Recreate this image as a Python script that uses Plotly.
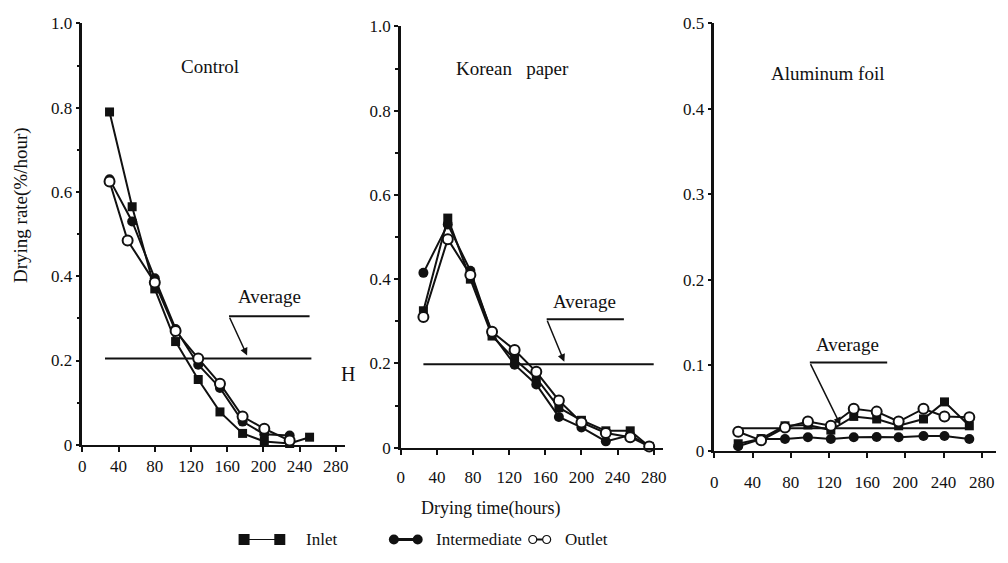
import plotly.graph_objects as go

# ---------------- data ----------------
ctrl_x_in = [30, 55, 80, 103, 128, 152, 177, 201, 229, 251]
ctrl_inlet = [0.79, 0.565, 0.37, 0.245, 0.155, 0.078, 0.027, 0.008, 0.003, 0.018]
ctrl_x_mid = [30, 55, 80, 103, 128, 152, 177, 201, 229]
ctrl_mid = [0.63, 0.53, 0.395, 0.275, 0.19, 0.135, 0.055, 0.025, 0.022]
ctrl_x_out = [30, 50, 80, 103, 128, 152, 177, 201, 229]
ctrl_out = [0.625, 0.485, 0.385, 0.27, 0.205, 0.145, 0.067, 0.038, 0.01]
ctrl_avg = 0.205
ctrl_avg_span = [25, 253]

kor_x = [25, 52, 77, 101, 126, 150, 175, 200, 227, 254, 275]
kor_inlet = [0.325, 0.545, 0.40, 0.265, 0.21, 0.165, 0.095, 0.065, 0.04, 0.04, 0.003]
kor_mid = [0.415, 0.53, 0.42, 0.27, 0.197, 0.15, 0.073, 0.048, 0.015, 0.03, 0.003]
kor_out = [0.31, 0.495, 0.41, 0.275, 0.232, 0.18, 0.112, 0.06, 0.035, 0.025, 0.003]
kor_avg = 0.198
kor_avg_span = [25, 280]

al_x = [25, 49, 74, 98, 122, 146, 170, 193, 219, 241, 267]
al_inlet = [0.008, 0.014, 0.029, 0.03, 0.024, 0.040, 0.037, 0.029, 0.037, 0.057, 0.029]
al_mid = [0.005, 0.0136, 0.0136, 0.0155, 0.0136, 0.0155, 0.016, 0.0155, 0.017, 0.017, 0.0136]
al_out = [0.022, 0.012, 0.027, 0.034, 0.029, 0.049, 0.0456, 0.034, 0.049, 0.040, 0.039]
al_avg = 0.026
al_avg_span = [22, 268]

x_ticks = [0, 40, 80, 120, 160, 200, 240, 280]
y_ticks_big = [0, 0.2, 0.4, 0.6, 0.8, 1.0]
y_ticks_big_text = ["0", "0.2", "0.4", "0.6", "0.8", "1.0"]
y_minor_big = [0.1, 0.3, 0.5, 0.7, 0.9]
y_ticks_al = [0, 0.1, 0.2, 0.3, 0.4, 0.5]
y_ticks_al_text = ["0", "0.1", "0.2", "0.3", "0.4", "0.5"]

panel_titles = ["Control", "Korean   paper", "Aluminum foil"]
series_names = ["Inlet", "Intermediate", "Outlet"]

FONT = "Liberation Serif"
BLACK = "#111111"

fig = go.Figure()

def add_series(xs, ys, kind, xa, ya):
    if kind == "inlet":
        marker = dict(symbol="square", size=9, color=BLACK)
    elif kind == "mid":
        marker = dict(symbol="circle", size=10, color=BLACK)
    else:
        marker = dict(symbol="circle", size=10, color="white",
                      line=dict(color=BLACK, width=2))
    fig.add_trace(go.Scatter(x=xs, y=ys, mode="lines+markers", xaxis=xa, yaxis=ya,
                             line=dict(color=BLACK, width=2), marker=marker,
                             cliponaxis=False, showlegend=False, hoverinfo="skip"))

def add_avg(span, val, xa, ya):
    fig.add_trace(go.Scatter(x=span, y=[val, val], mode="lines", xaxis=xa, yaxis=ya,
                             line=dict(color=BLACK, width=2), cliponaxis=False,
                             showlegend=False, hoverinfo="skip"))

# panel 1
add_avg(ctrl_avg_span, ctrl_avg, "x", "y")
add_series(ctrl_x_in, ctrl_inlet, "inlet", "x", "y")
add_series(ctrl_x_mid, ctrl_mid, "mid", "x", "y")
add_series(ctrl_x_out, ctrl_out, "out", "x", "y")
# panel 2
add_avg(kor_avg_span, kor_avg, "x2", "y2")
add_series(kor_x, kor_inlet, "inlet", "x2", "y2")
add_series(kor_x, kor_mid, "mid", "x2", "y2")
add_series(kor_x, kor_out, "out", "x2", "y2")
# panel 3
add_avg(al_avg_span, al_avg, "x3", "y3")
add_series(al_x, al_inlet, "inlet", "x3", "y3")
add_series(al_x, al_mid, "mid", "x3", "y3")
add_series(al_x, al_out, "out", "x3", "y3")

# legend samples (auxiliary axis, pixel-like coords)
LEG_Y = 0.31
leg_samples = [([242, 278], "inlet", 1), ([393, 417], "mid", 3), ([533, 547], "out", 2)]
for xs, kind, lw in leg_samples:
    if kind == "inlet":
        marker = dict(symbol="square", size=11, color=BLACK)
    elif kind == "mid":
        marker = dict(symbol="circle", size=10, color=BLACK)
    else:
        marker = dict(symbol="circle", size=8, color="white", line=dict(color=BLACK, width=1.2))
    fig.add_trace(go.Scatter(x=xs, y=[LEG_Y, LEG_Y], mode="lines+markers", xaxis="x4", yaxis="y4",
                             line=dict(color=BLACK, width=lw), marker=marker,
                             cliponaxis=False, showlegend=False, hoverinfo="skip"))

def xaxis(domain, rng, standoff):
    return dict(domain=domain, range=rng, tickmode="array", tickvals=x_ticks,
                ticktext=[str(v) for v in x_ticks], ticks="outside", ticklen=5, tickwidth=1.5,
                tickcolor=BLACK, showline=True, linewidth=2, linecolor=BLACK,
                showgrid=False, zeroline=False, ticklabelstandoff=standoff,
                tickfont=dict(family=FONT, size=17, color=BLACK))

def yaxis(domain, rng, vals, text, minor_vals, anchor):
    d = dict(domain=domain, range=rng, anchor=anchor, tickmode="array", tickvals=vals, ticktext=text,
             ticks="outside", ticklen=4, tickwidth=1.5, tickcolor=BLACK, showline=True,
             linewidth=2.5, linecolor=BLACK, showgrid=False, zeroline=False,
             tickfont=dict(family=FONT, size=17, color=BLACK))
    if minor_vals:
        d["minor"] = dict(tickmode="array", tickvals=minor_vals, ticks="outside", ticklen=3,
                          tickwidth=1.5, tickcolor=BLACK, showgrid=False)
    return d

fig.update_layout(
    width=1008, height=563, margin=dict(l=0, r=0, t=0, b=0),
    font=dict(family=FONT, color=BLACK),
    paper_bgcolor="white", plot_bgcolor="white", showlegend=False,
    xaxis=dict(**xaxis([79/1008, 343.6/1008], [0, 290], 0), anchor="y"),
    yaxis=yaxis([(563-451)/563, (563-15)/563], [0, 1.0], y_ticks_big, y_ticks_big_text, y_minor_big, "x"),
    xaxis2=dict(**xaxis([400/1008, 664/1008], [0, 290], 8), anchor="y2"),
    yaxis2=yaxis([(563-454)/563, (563-18)/563], [0, 1.0], y_ticks_big, y_ticks_big_text, y_minor_big, "x2"),
    xaxis3=dict(**xaxis([716/1008, 1000/1008], [0, 295], 10), anchor="y3"),
    yaxis3=yaxis([(563-457)/563, (563-15)/563], [0, 0.5], y_ticks_al, y_ticks_al_text, None, "x3"),
    xaxis4=dict(domain=[0, 1], range=[0, 1008], visible=False, anchor="y4"),
    yaxis4=dict(domain=[0, 0.08], range=[0, 1], visible=False, anchor="x4"),
)

ann = []
def txt(x, y, s, xref, yref, size=19, xanchor="center", **kw):
    ann.append(dict(x=x, y=y, text=s, xref=xref, yref=yref, showarrow=False,
                    xanchor=xanchor, yanchor="middle",
                    font=dict(family=FONT, size=size, color=BLACK), **kw))

# panel titles
txt(141, 0.897, panel_titles[0], "x", "y")
txt(124, 0.899, panel_titles[1], "x2", "y2")
txt(118.5, 0.441, panel_titles[2], "x3", "y3")
# Average labels
txt(207, 0.353, "Average", "x", "y")
txt(203, 0.346, "Average", "x2", "y2")
txt(139, 0.124, "Average", "x3", "y3")
# H marker
txt(347/1008, (563-378)/563, "H", "paper", "paper", size=20)
# axis titles
txt(490/1008, (563-517)/563, "Drying time(hours)", "paper", "paper", size=18)
txt(17/1008, (563-203)/563, "Drying rate(%/hour)", "paper", "paper", size=19, textangle=-90)
# legend texts
txt(302, LEG_Y, series_names[0], "x4", "y4", size=17, xanchor="left")
txt(433, LEG_Y, series_names[1], "x4", "y4", size=17, xanchor="left")
txt(563, LEG_Y, series_names[2], "x4", "y4", size=17, xanchor="left")

# leader lines for "Average"
leaders = [("x", "y", 251, 162, 0.305, 182, 0.212),
           ("x2", "y2", 247, 161.5, 0.305, 181, 0.204),
           ("x3", "y3", 181, 100, 0.103, 132, 0.030)]
shapes = []
for xr, yr, xh, xc, yh, xt, yt in leaders:
    shapes.append(dict(type="line", xref=xr, yref=yr, x0=xh, x1=xc, y0=yh, y1=yh,
                       line=dict(color=BLACK, width=2)))
    ann.append(dict(x=xt, y=yt, ax=xc, ay=yh, xref=xr, yref=yr, axref=xr, ayref=yr,
                    showarrow=True, arrowhead=2, arrowsize=1, arrowwidth=1.5,
                    arrowcolor=BLACK, text=""))

fig.update_layout(annotations=ann, shapes=shapes)
fig.write_html("out.html")
